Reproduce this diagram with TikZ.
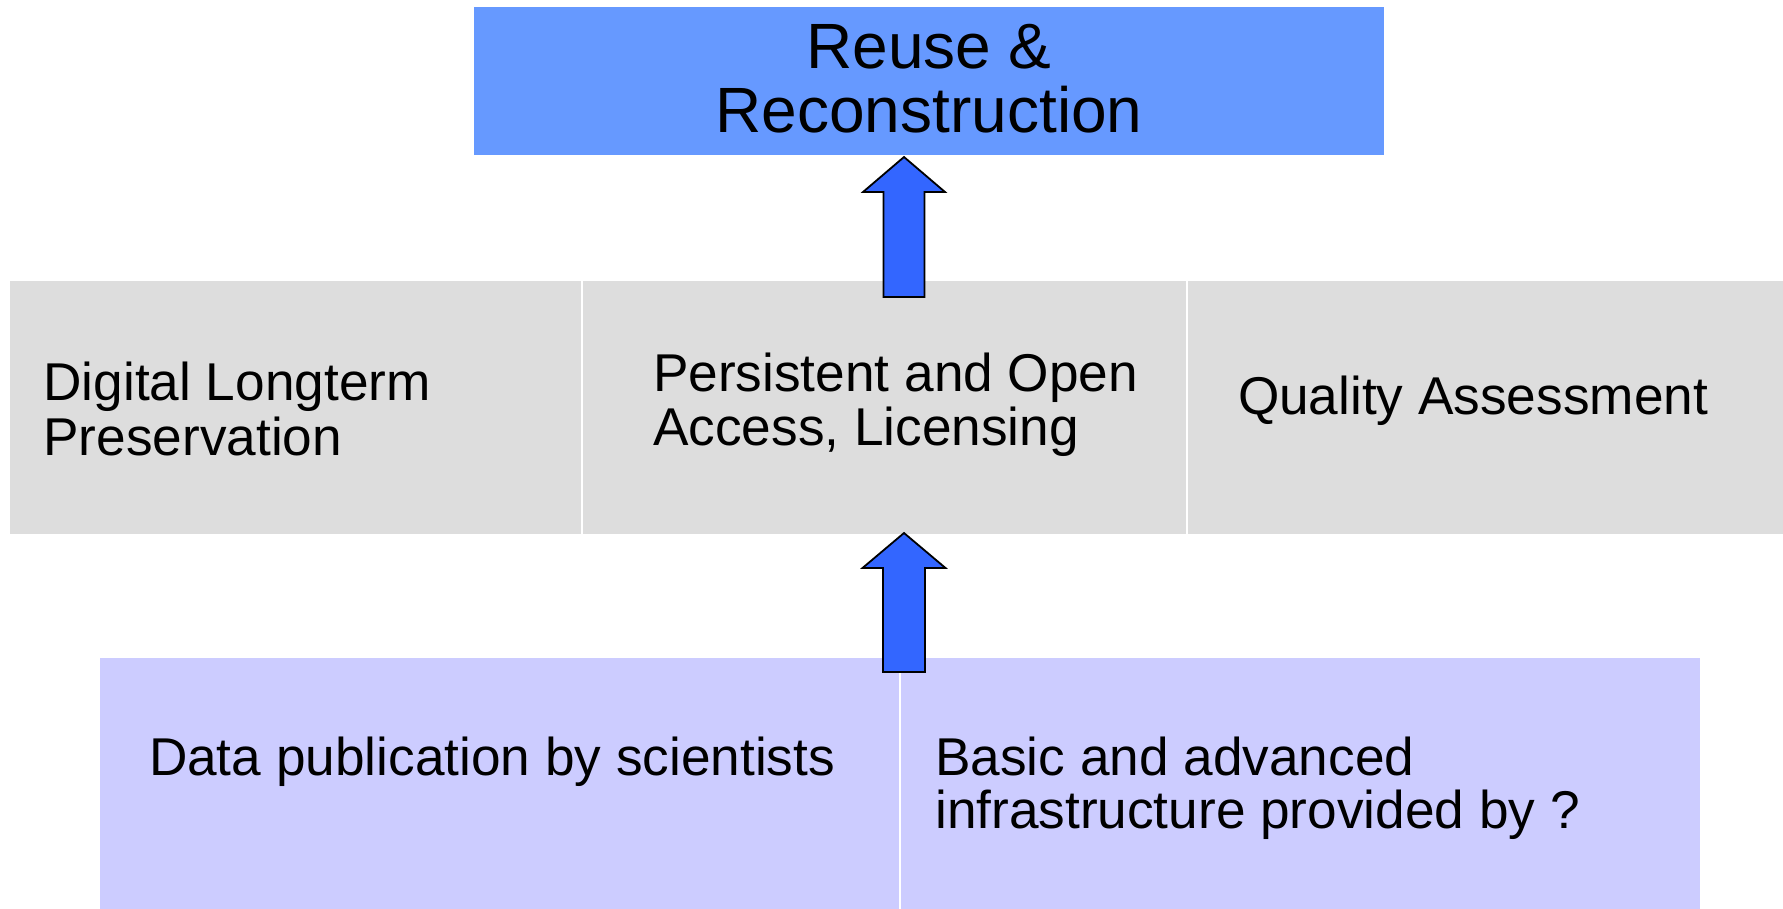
\documentclass[tikz,border=0pt]{standalone}
\usepackage{fontspec}
\setmainfont{Liberation Sans}
\definecolor{topblue}{HTML}{6699FF}
\definecolor{arrowblue}{HTML}{3366FF}
\definecolor{midgray}{HTML}{DDDDDD}
\definecolor{lilac}{HTML}{CCCCFF}
\begin{document}
\begin{tikzpicture}[x=1pt,y=-1pt,
  box/.style={draw=white,line width=2.5pt},
  lbl/.style={inner sep=0pt,anchor=base west,font=\fontsize{53.2}{60}\selectfont},
  toplbl/.style={inner sep=0pt,anchor=base,font=\fontsize{64}{72}\selectfont},
  blockarrow/.style={fill=arrowblue,draw=black,line width=1.8pt,line join=miter}]
\useasboundingbox (0,0) rectangle (1783,908);
\fill[white] (0,0) rectangle (1783,908);
% top box
\fill[topblue] (474,7) rectangle (1384,155);
\node[inner sep=0pt,minimum width=910pt,minimum height=148pt] (top) at (929,81) {};
\node[toplbl] (t1) at (929,68) {Reuse \&};
\node[toplbl] (t2) at (929,132) {Reconstruction};
% gray row
\draw[box,fill=midgray] (9,280) rectangle (582,535);
\draw[box,fill=midgray] (582,280) rectangle (1187,535);
\draw[box,fill=midgray] (1187,280) rectangle (1790,535);
\node[inner sep=0pt,minimum width=573pt,minimum height=255pt] (g1) at (295.5,407.5) {};
\node[inner sep=0pt,minimum width=605pt,minimum height=255pt] (g2) at (884.5,407.5) {};
\node[inner sep=0pt,minimum width=596pt,minimum height=255pt] (g3) at (1485,407.5) {};
\node[lbl] (l1a) at (43.2,400.5) {Digital Longterm};
\node[lbl] (l1b) at (43.2,455) {Preservation};
\node[lbl] (l2a) at (653,391.5) {Persistent and Open};
\node[lbl] (l2b) at (653,445.5) {Access, Licensing};
\node[lbl] (l3) at (1237.8,414) {Quality Assessment};
% bottom row
\draw[box,fill=lilac,line width=2pt] (99,657) rectangle (900,915);
\draw[box,fill=lilac,line width=2pt] (900,657) rectangle (1701,915);
\node[inner sep=0pt,minimum width=801pt,minimum height=251pt] (b1) at (499.5,782.5) {};
\node[inner sep=0pt,minimum width=801pt,minimum height=251pt] (b2) at (1300.5,782.5) {};
\node[lbl] (b1a) at (148.8,775) {Data publication by scientists};
\node[lbl] (b2a) at (935,775) {Basic and advanced};
\node[lbl] (b2b) at (935,828.5) {infrastructure provided by ?};
% arrows
\coordinate (a1tip) at (904,157);
\coordinate (a1tail) at (904,297);
\coordinate (a2tip) at (904,533);
\coordinate (a2tail) at (904,672);
\draw[blockarrow] (a1tail) ++(-20.5,0) -- ++(0,-105) -- ++(-20.5,0) -- (a1tip) -- ++(41,35) -- ++(-20.5,0) -- ++(0,105) -- cycle;
\draw[blockarrow] (a2tail) ++(-21,0) -- ++(0,-104) -- ++(-20.5,0) -- (a2tip) -- ++(41.5,35) -- ++(-20.5,0) -- ++(0,104) -- cycle;
\end{tikzpicture}
\end{document}
